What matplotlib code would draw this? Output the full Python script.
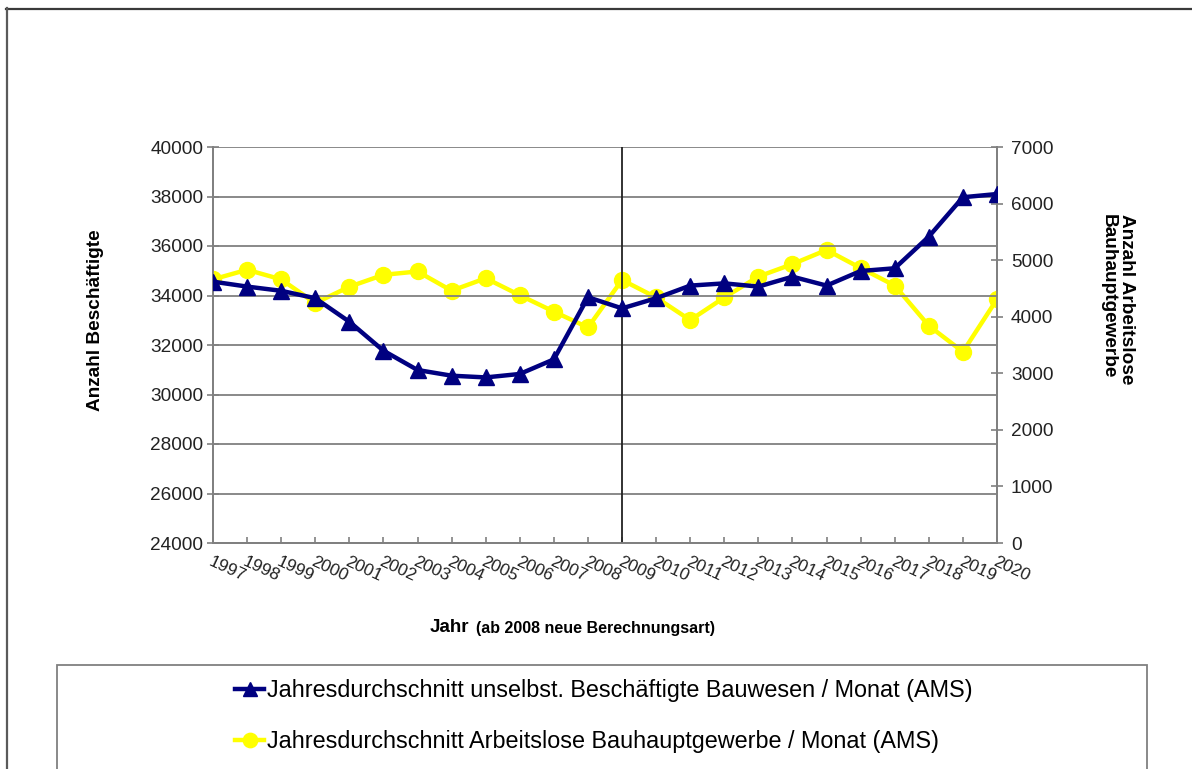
import matplotlib
matplotlib.use("Agg")
import matplotlib.pyplot as plt
from matplotlib.lines import Line2D
from matplotlib.patches import Rectangle

plt.rcParams['font.family'] = ['Liberation Sans', 'DejaVu Sans']

years = [str(y) for y in range(1997, 2021)]
beschaeftigte = [34560, 34360, 34190, 33890, 32940, 31770, 30990, 30760, 30690, 30830,
                 31420, 33930, 33480, 33890, 34400, 34490, 34360, 34760, 34400, 34990,
                 35100, 36380, 37970, 38100]
arbeitslose = [4660, 4830, 4660, 4240, 4530, 4740, 4800, 4460, 4680, 4380,
               4090, 3810, 4650, 4340, 3940, 4340, 4710, 4930, 5180, 4860,
               4550, 3840, 3380, 4310]
left_ticks = list(range(24000, 40001, 2000))
right_ticks = list(range(0, 7001, 1000))
break_year = "2009"

label_b = "Jahresdurchschnitt unselbst. Beschäftigte Bauwesen / Monat (AMS)"
label_a = "Jahresdurchschnitt Arbeitslose Bauhauptgewerbe / Monat (AMS)"

W, H = 1192, 769
fig = plt.figure(figsize=(W / 100, H / 100), dpi=100)
fig.patch.set_facecolor("white")

def fx(px):
    return px / W

def fy(py):
    return 1 - py / H

ax = fig.add_axes([fx(213), fy(543), fx(997) - fx(213), fy(147) - fy(543)])
ax2 = ax.twinx()

x = list(range(len(years)))
grey = "#808080"

ax.set_ylim(24000, 40000)
ax.set_yticks(left_ticks)
ax.set_xlim(0, len(years) - 1)
ax.set_xticks(x)
ax.set_xticklabels(years)
ax.grid(axis="y", color=grey, linewidth=1.3)
ax.set_axisbelow(True)

ax2.set_ylim(0, 7000)
ax2.set_yticks(right_ticks)

for a in (ax, ax2):
    for s in a.spines.values():
        s.set_color(grey)
        s.set_linewidth(1.3)
ax.spines["top"].set_visible(False)
ax2.spines["top"].set_visible(False)

ax.tick_params(axis="y", direction="inout", length=8, width=1.2, color=grey,
               labelsize=13.7, pad=3, labelcolor="#222222")
ax2.tick_params(axis="y", direction="inout", length=8, width=1.2, color=grey,
                labelsize=13.7, pad=6, labelcolor="#222222")
ax.tick_params(axis="x", direction="in", length=4, width=1.2, color=grey,
               labelsize=12.5, pad=8, labelcolor="#222222")
for lbl in ax.get_xticklabels():
    lbl.set_rotation(-25)
    lbl.set_rotation_mode("anchor")
    lbl.set_ha("left")
    lbl.set_va("top")

ax.axvline(years.index(break_year), color="#222222", linewidth=1.3, zorder=1)

l1, = ax.plot(x, beschaeftigte, color="#000080", linewidth=3.2, marker="^",
              markersize=11, zorder=3, label=label_b)
l2, = ax2.plot(x, arbeitslose, color="#FFFF00", linewidth=3.2, marker="o",
               markersize=11.5, zorder=3, label=label_a)
ax.set_zorder(ax2.get_zorder() + 1)
ax.patch.set_visible(False)

fig.text(fx(95), fy(320), "Anzahl Beschäftigte", rotation=90, ha="center",
         va="center", fontsize=13.7, fontweight="bold")
fig.text(fx(1117), fy(214), "Anzahl Arbeitslose\nBauhauptgewerbe", rotation=-90,
         ha="center", va="top", fontsize=13.7, fontweight="bold",
         multialignment="left", linespacing=1.1)

fig.text(fx(430), fy(628), "Jahr", ha="left", va="center", fontsize=13.5,
         fontweight="bold")
fig.text(fx(476), fy(629), "(ab 2008 neue Berechnungsart)", ha="left",
         va="center", fontsize=11.5, fontweight="bold")

# legend box (runs past the lower edge)
fig.patches.append(Rectangle((fx(57), fy(790)), fx(1147) - fx(57), fy(665) - fy(790),
                             transform=fig.transFigure, facecolor="white",
                             edgecolor=grey, linewidth=1.3))
leg = fig.legend([l1, l2], [label_b, label_a], loc="center left",
                 bbox_to_anchor=(fx(214), fy(716)), frameon=False, fontsize=16.8,
                 handlelength=1.25, handletextpad=0.12, labelspacing=1.2,
                 markerscale=0.9)

# outer frame
fig.add_artist(Line2D([fx(6), 1], [fy(8.5), fy(8.5)], transform=fig.transFigure,
                      color="#3a3a3a", linewidth=1.6))
fig.add_artist(Line2D([fx(6.5), fx(6.5)], [fy(8), 0], transform=fig.transFigure,
                      color="#5a5a5a", linewidth=1.6))

fig.savefig("out.png", dpi=100, facecolor="white")
